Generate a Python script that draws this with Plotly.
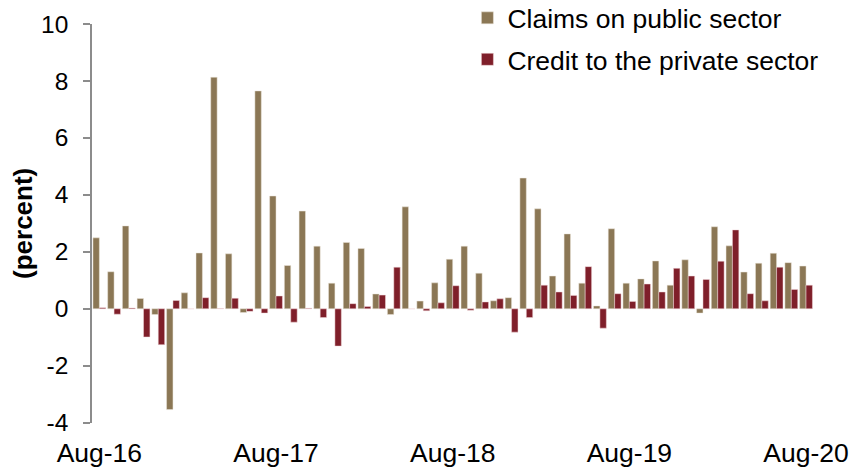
import plotly.graph_objects as go

months = ["Aug-16","Sep-16","Oct-16","Nov-16","Dec-16","Jan-17","Feb-17","Mar-17","Apr-17","May-17","Jun-17","Jul-17",
          "Aug-17","Sep-17","Oct-17","Nov-17","Dec-17","Jan-18","Feb-18","Mar-18","Apr-18","May-18","Jun-18","Jul-18",
          "Aug-18","Sep-18","Oct-18","Nov-18","Dec-18","Jan-19","Feb-19","Mar-19","Apr-19","May-19","Jun-19","Jul-19",
          "Aug-19","Sep-19","Oct-19","Nov-19","Dec-19","Jan-20","Feb-20","Mar-20","Apr-20","May-20","Jun-20","Jul-20",
          "Aug-20"]

claims_public = [2.49, 1.30, 2.91, 0.36, -0.20, -3.54, 0.56, 1.96, 8.13, 1.93, -0.13, 7.65,
                 3.96, 1.52, 3.43, 2.20, 0.90, 2.33, 2.12, 0.52, -0.20, 3.58, 0.27, 0.91,
                 1.74, 2.20, 1.25, 0.28, 0.39, 4.59, 3.51, 1.15, 2.63, 0.90, 0.10, 2.81,
                 0.90, 1.05, 1.68, 0.83, 1.72, -0.15, 2.88, 2.21, 1.29, 1.60, 1.95, 1.62,
                 1.50]

credit_private = [0.04, -0.19, 0.03, -0.99, -1.26, 0.29, 0.00, 0.39, 0.01, 0.37, -0.09, -0.15,
                  0.45, -0.47, 0.02, -0.31, -1.31, 0.18, 0.08, 0.48, 1.46, 0.00, -0.07, 0.21,
                  0.81, -0.05, 0.24, 0.35, -0.82, -0.31, 0.83, 0.59, 0.47, 1.48, -0.68, 0.53,
                  0.26, 0.87, 0.59, 1.42, 1.15, 1.03, 1.67, 2.77, 0.53, 0.28, 1.46, 0.68,
                  0.83]

label_months = ["Aug-16", "Aug-17", "Aug-18", "Aug-19", "Aug-20"]
y_ticks = [-4, -2, 0, 2, 4, 6, 8, 10]

TAN = "#8B7755"
RED = "#7F1F2A"
AXIS = "#8C8C8C"
FONT = "Liberation Sans, Arial, sans-serif"

# page body has an 8px margin, so the figure is 8px smaller than the window
PAGE_OFF = 8
W, H = 860 - PAGE_OFF, 470 - PAGE_OFF
idx = list(range(len(months)))
y_min, y_max = min(y_ticks), max(y_ticks)
x_range = [-0.5, len(months) - 0.5]

fig = go.Figure()
fig.add_trace(go.Bar(x=idx, y=claims_public, name="Claims on public sector",
                     marker=dict(color=TAN, line=dict(color="#EDE6DC", width=0.5)),
                     legendgroup="a", hovertext=months))
fig.add_trace(go.Bar(x=idx, y=credit_private, name="Credit to the private sector",
                     marker=dict(color=RED, line=dict(color="#F0D8DA", width=0.5)),
                     legendgroup="b", hovertext=months))

label_vals = [months.index(m) for m in label_months]
boundary_vals = [v - 0.5 for v in label_vals[1:]]

x_dom = [(92 - PAGE_OFF) / W, (813.4 - PAGE_OFF) / W]
y_dom = [(470 - 422.7) / H, (470 - 24) / H]

fig.update_layout(
    width=W, height=H,
    margin=dict(l=0, r=0, t=0, b=0, autoexpand=False),
    plot_bgcolor="white", paper_bgcolor="white",
    font=dict(family=FONT, color="black", size=26.5),
    barmode="group", bargap=0.13, bargroupgap=0.0,
    showlegend=True,
    legend=dict(x=0.5392, y=1.03, xanchor="left", yanchor="top",
                font=dict(size=26.5), tracegroupgap=4, bgcolor="rgba(0,0,0,0)"),
    xaxis=dict(domain=x_dom, range=x_range, tickvals=label_vals, ticktext=label_months,
               showline=False, showgrid=False, zeroline=False, ticks="",
               ticklabelstandoff=12, tickfont=dict(size=26.5)),
    xaxis2=dict(domain=x_dom, overlaying="x", anchor="free",
                position=y_dom[0] + (y_dom[1] - y_dom[0]) * (0 - y_min) / (y_max - y_min),
                range=x_range, tickvals=boundary_vals, showticklabels=False,
                showline=True, linecolor=AXIS, linewidth=1.5,
                ticks="outside", ticklen=6, tickcolor=AXIS, tickwidth=1.5,
                showgrid=False, zeroline=False),
    yaxis=dict(domain=y_dom, range=[y_min, y_max], tickvals=y_ticks,
               ticktext=[str(v) for v in y_ticks], showgrid=False, zeroline=False,
               showline=True, linecolor=AXIS, linewidth=1.5,
               ticks="outside", ticklen=7, tickcolor=AXIS, tickwidth=1.5,
               ticklabelstandoff=10, tickfont=dict(size=24.5),
               title=dict(text="<b>(percent)</b>", font=dict(size=26), standoff=6)),
)

fig.write_html("out.html")
